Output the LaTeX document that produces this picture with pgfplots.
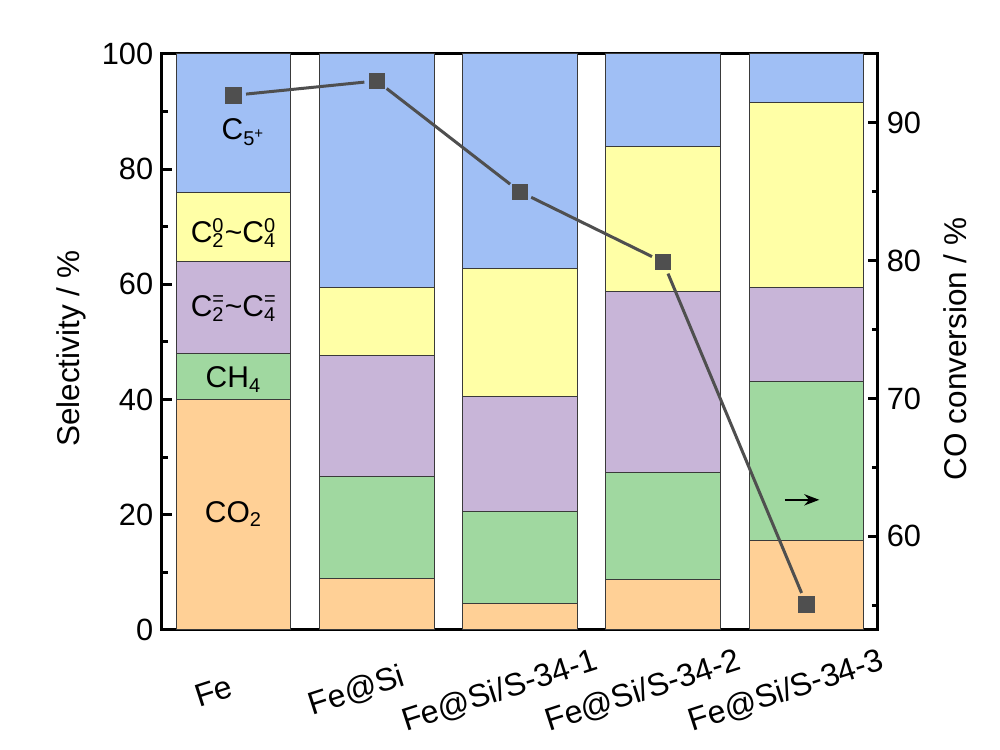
\documentclass[border=0pt]{standalone}
\usepackage{pgfplots}
\pgfplotsset{compat=1.18}
\usetikzlibrary{arrows.meta}
\usepackage{fontspec}
\setmainfont{Liberation Sans}
\definecolor{cblue}{HTML}{A0BFF5}
\definecolor{cyellow}{HTML}{FFFFA6}
\definecolor{cpurple}{HTML}{C8B5D8}
\definecolor{cgreen}{HTML}{A0D8A0}
\definecolor{corange}{HTML}{FFD096}
\definecolor{cline}{HTML}{4F4F4F}
\definecolor{cedge}{HTML}{3A3A3A}
\newcommand{\fs}{\fontsize{12.3}{14}\selectfont}
\newcommand{\fl}{\fontsize{12.6}{14}\selectfont}
\newcommand{\fx}{\fontsize{12.8}{14}\selectfont}
\newcommand{\fb}{\fontsize{12}{14}\selectfont}
\begin{document}
\begin{tikzpicture}[font=\fs]
\path[use as bounding box] (-64.8pt,-48pt) rectangle (335.2pt,252pt);
\begin{axis}[
  at={(0pt,0pt)}, anchor=south west,
  scale only axis, width=286.4pt, height=230.4pt,
  xmin=-0.5, xmax=4.5, ymin=0, ymax=100,
  ybar stacked, bar width=0.8,
  xtick={0,1,2,3,4},
  xticklabels={Fe,Fe@Si,Fe@Si/S-34-1,Fe@Si/S-34-2,Fe@Si/S-34-3},
  xtick pos=bottom, ytick pos=left,
  ytick={0,20,40,60,80,100}, minor ytick={10,30,50,70,90},
  tick align=inside,
  major tick length=4pt, minor tick length=2.4pt,
  every tick/.style={black, line width=1.2pt},
  axis line style={line width=1.2pt},
  /pgf/number format/assume math mode=true,
  tick label style={font=\fs},
  xticklabel style={font=\fx, anchor=center, xshift=-8pt, yshift=-24.5pt, rotate=18},
  ylabel={Selectivity / \%},
  ylabel style={font=\fl, at={(axis description cs:-0.127,0.488)}, anchor=center, rotate=0},
]
\addplot[fill=corange, draw=cedge, line width=0.4pt] coordinates {(0,40) (1,9) (2,4.6) (3,8.8) (4,15.6)};
\addplot[fill=cgreen, draw=cedge, line width=0.4pt] coordinates {(0,8) (1,17.6) (2,15.9) (3,18.6) (4,27.6)};
\addplot[fill=cpurple, draw=cedge, line width=0.4pt] coordinates {(0,16) (1,21.1) (2,20.1) (3,31.3) (4,16.3)};
\addplot[fill=cyellow, draw=cedge, line width=0.4pt] coordinates {(0,12) (1,11.8) (2,22.2) (3,25.2) (4,32)};
\addplot[fill=cblue, draw=cedge, line width=0.4pt] coordinates {(0,24) (1,40.5) (2,37.2) (3,16.1) (4,8.5)};
\coordinate (L1) at (axis cs:0.07,85.1);
\coordinate (L2) at (axis cs:0,67.2);
\coordinate (L3) at (axis cs:0,54.4);
\coordinate (L4) at (axis cs:0,42.1);
\coordinate (L5) at (axis cs:0,18.7);
\coordinate (A1) at (axis cs:3.85,22.6);
\coordinate (A2) at (axis cs:4.09,22.6);
\end{axis}
\begin{axis}[
  at={(0pt,0pt)}, anchor=south west,
  scale only axis, width=286.4pt, height=230.4pt,
  xmin=-0.5, xmax=4.5, ymin=53.2, ymax=95,
  axis x line=none, axis y line*=right,
  ytick={60,70,80,90}, minor ytick={55,65,75,85},
  tick align=inside,
  major tick length=4pt, minor tick length=2.4pt,
  every tick/.style={black, line width=1.2pt},
  axis line style={line width=1.2pt},
  /pgf/number format/assume math mode=true,
  tick label style={font=\fs},
  ylabel={CO conversion / \%},
  ylabel style={font=\fl, at={(axis description cs:1.1075,0.488)}, anchor=center},
]
\pgfplotsset{seg/.style={color=cline, line width=1.2pt, shorten >=5pt, shorten <=5pt, forget plot}}
\addplot[seg] coordinates {(0,92) (1,93.05)};
\addplot[seg] coordinates {(1,93.05) (2,85)};
\addplot[seg] coordinates {(2,85) (3,79.9)};
\addplot[seg] coordinates {(3,79.9) (4,55.05)};
\addplot[only marks, mark=square*, mark size=3.1pt, mark options={fill=cline, draw=cline}] coordinates {(0,92) (1,93.05) (2,85) (3,79.9) (4,55.05)};
\end{axis}
\begin{scope}[font=\fb]
\node[anchor=base] at (L1) {C\textsubscript{5\textsuperscript{+}}};
\node[anchor=base] at (L2) {C\rlap{\textsuperscript{0}}\textsubscript{2}\textasciitilde C\rlap{\textsuperscript{0}}\textsubscript{4}};
\node[anchor=base] at (L3) {C\rlap{\textsuperscript{=}}\textsubscript{2}\textasciitilde C\rlap{\textsuperscript{=}}\textsubscript{4}};
\node[anchor=base] at (L4) {CH\textsubscript{4}};
\node[anchor=base] at (L5) {CO\textsubscript{2}};
\end{scope}
\draw[-{Stealth[length=6pt,width=4.5pt]}, line width=0.8pt] (A1) -- (A2);
\end{tikzpicture}
\end{document}
